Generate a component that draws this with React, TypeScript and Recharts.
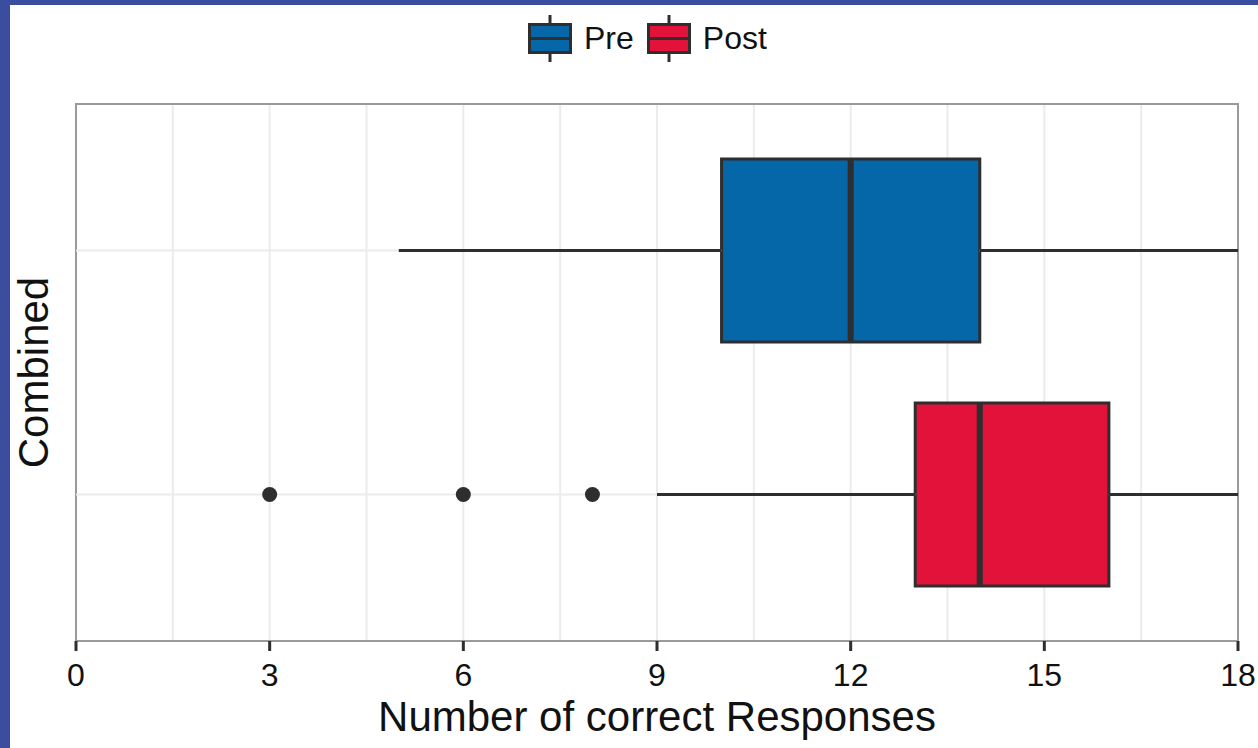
import React from "react";
import {
  CartesianGrid,
  Label,
  Legend,
  ReferenceArea,
  ReferenceLine,
  Scatter,
  ScatterChart,
  XAxis,
  YAxis,
} from "recharts";

// box plot summary
const groups = ["Pre", "Post"];
const groupPos = [1, 2];
const whiskerLow = [5, 9];
const q1 = [10, 13];
const median = [12, 14];
const q3 = [14, 16];
const whiskerHigh = [18, 18];
const outliers: number[][] = [[], [3, 6, 8]];
const colors = ["#0566a8", "#e2123b"];

const xTicks = [0, 3, 6, 9, 12, 15, 18];
const xGrid = [0, 1.5, 3, 4.5, 6, 7.5, 9, 10.5, 12, 13.5, 15, 16.5, 18];

const W = 1258;
const H = 748;
const FONT = '"Liberation Sans", Arial, Helvetica, sans-serif';
const INK = "#2e2e2e";
const GRID = "#ebebeb";
const HALF = 0.375; // half box height in y units
const X_DOMAIN: [number, number] = [0, 18];
const Y_DOMAIN: [number, number] = [0.4, 2.6];
const LEGEND_H = 47;

const outlierPoints = outliers.flatMap((vals, i) =>
  vals.map((v) => ({ x: v, y: groupPos[i] }))
);

function LegendIcon({ color }: { color: string }) {
  return (
    <svg width={44} height={LEGEND_H} style={{ display: "block" }}>
      <line x1={22} y1={0} x2={22} y2={LEGEND_H} stroke={INK} strokeWidth={3} />
      <rect x={1.5} y={9.5} width={41} height={28} fill={color} stroke={INK} strokeWidth={3} />
      <line x1={1.5} y1={23.5} x2={42.5} y2={23.5} stroke={INK} strokeWidth={3} />
    </svg>
  );
}

function renderLegend() {
  return (
    <div
      style={{
        display: "flex",
        alignItems: "center",
        height: LEGEND_H,
        fontFamily: FONT,
        fontSize: 32,
        color: "#111",
      }}
    >
      {groups.map((g, i) => (
        <div key={g} style={{ display: "flex", alignItems: "center", marginRight: 13 }}>
          <LegendIcon color={colors[i]} />
          <span style={{ marginLeft: 12 }}>{g}</span>
        </div>
      ))}
    </div>
  );
}

export default function App() {
  return (
    <div style={{ position: "fixed", left: 0, top: 0, width: W, height: H, background: "#3a4d9e" }}>
      <div style={{ position: "absolute", left: 10, top: 5, right: 0, bottom: 0, background: "#fff" }} />
      <div style={{ position: "absolute", left: 0, top: 0 }}>
        <ScatterChart
          width={W}
          height={H}
          margin={{ top: 104 - LEGEND_H, right: 20, bottom: 0, left: 0 }}
        >
          <CartesianGrid verticalValues={xGrid} horizontal={false} stroke={GRID} strokeWidth={2} />
          <XAxis
            type="number"
            dataKey="x"
            domain={X_DOMAIN}
            ticks={xTicks}
            allowDataOverflow
            height={107}
            axisLine={false}
            tickLine={{ stroke: INK, strokeWidth: 3 }}
            tickSize={10}
            tickMargin={12}
            tick={{ fontSize: 32, fill: "#111", fontFamily: FONT }}
            interval={0}
          >
            <Label
              value="Number of correct Responses"
              position="insideBottom"
              offset={17}
              style={{ fontSize: 42, fill: "#111", fontFamily: FONT }}
            />
          </XAxis>
          <YAxis
            type="number"
            dataKey="y"
            domain={Y_DOMAIN}
            reversed
            allowDataOverflow
            width={76}
            tick={false}
            tickLine={false}
            axisLine={false}
          >
            <Label
              value="Combined"
              angle={-90}
              position="insideLeft"
              offset={33}
              style={{ fontSize: 42, fill: "#111", fontFamily: FONT, textAnchor: "middle" }}
            />
          </YAxis>
          <Legend
            verticalAlign="top"
            height={LEGEND_H}
            content={renderLegend}
            wrapperStyle={{ top: 15, left: 528, width: "auto" }}
          />
          <ReferenceArea
            x1={X_DOMAIN[0]}
            x2={X_DOMAIN[1]}
            y1={Y_DOMAIN[0]}
            y2={Y_DOMAIN[1]}
            fill="none"
            fillOpacity={0}
            stroke="#9a9a9a"
            strokeWidth={2}
            ifOverflow="visible"
          />
          {/* horizontal grid lines, kept outside the boxes */}
          {groups.map((g, i) => (
            <ReferenceLine
              key={`gl-${g}`}
              segment={[
                { x: X_DOMAIN[0], y: groupPos[i] },
                { x: q1[i], y: groupPos[i] },
              ]}
              stroke={GRID}
              strokeWidth={2}
            />
          ))}
          {groups.map((g, i) => (
            <ReferenceLine
              key={`gr-${g}`}
              segment={[
                { x: q3[i], y: groupPos[i] },
                { x: X_DOMAIN[1], y: groupPos[i] },
              ]}
              stroke={GRID}
              strokeWidth={2}
            />
          ))}
          {groups.map((g, i) => (
            <ReferenceLine
              key={`wl-${g}`}
              segment={[
                { x: whiskerLow[i], y: groupPos[i] },
                { x: q1[i], y: groupPos[i] },
              ]}
              stroke={INK}
              strokeWidth={3}
              ifOverflow="visible"
            />
          ))}
          {groups.map((g, i) => (
            <ReferenceLine
              key={`wh-${g}`}
              segment={[
                { x: q3[i], y: groupPos[i] },
                { x: whiskerHigh[i], y: groupPos[i] },
              ]}
              stroke={INK}
              strokeWidth={3}
              ifOverflow="visible"
            />
          ))}
          {groups.map((g, i) => (
            <ReferenceArea
              key={`box-${g}`}
              x1={q1[i]}
              x2={q3[i]}
              y1={groupPos[i] - HALF}
              y2={groupPos[i] + HALF}
              fill={colors[i]}
              fillOpacity={1}
              stroke={INK}
              strokeWidth={3}
              ifOverflow="visible"
            />
          ))}
          {groups.map((g, i) => (
            <ReferenceLine
              key={`med-${g}`}
              segment={[
                { x: median[i], y: groupPos[i] - HALF },
                { x: median[i], y: groupPos[i] + HALF },
              ]}
              stroke={INK}
              strokeWidth={6}
              ifOverflow="visible"
            />
          ))}
          <Scatter
            data={outlierPoints}
            fill={INK}
            isAnimationActive={false}
            shape={(p: any) => <circle cx={p.cx} cy={p.cy} r={7.5} fill={INK} />}
          />
        </ScatterChart>
      </div>
    </div>
  );
}
